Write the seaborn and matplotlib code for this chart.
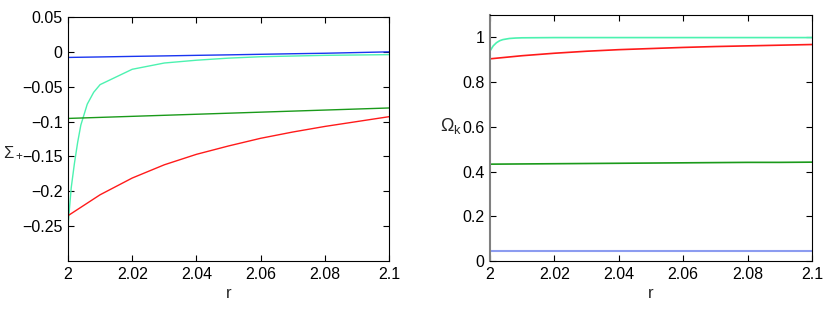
import numpy as np
import pandas as pd
import matplotlib
matplotlib.use("Agg")
import matplotlib.pyplot as plt
import seaborn as sns

# r grid
r = [2.0, 2.01, 2.02, 2.03, 2.04, 2.05, 2.06, 2.07, 2.08, 2.09, 2.1]
r_fine = [2.0, 2.001, 2.002, 2.003, 2.004, 2.006, 2.008, 2.01, 2.02, 2.03,
          2.04, 2.05, 2.06, 2.07, 2.08, 2.09, 2.1]

# left panel: Sigma_+
sig_blue = [-0.008, -0.0073, -0.0065, -0.0058, -0.005, -0.0043, -0.0035, -0.0027, -0.002, -0.001, 0.0]
sig_green = [-0.0955, -0.094, -0.0925, -0.091, -0.0895, -0.088, -0.0865, -0.085, -0.0835, -0.082, -0.0805]
sig_red = [-0.235, -0.205, -0.181, -0.162, -0.147, -0.135, -0.124, -0.115, -0.107, -0.100, -0.093]
sig_cyan = [-0.25, -0.195, -0.16, -0.13, -0.105, -0.075, -0.058, -0.047, -0.025, -0.016,
            -0.012, -0.009, -0.007, -0.006, -0.005, -0.0045, -0.004]

# right panel: Omega_k
om_cyan_r = [2.0, 2.001, 2.002, 2.003, 2.004, 2.006, 2.008, 2.01, 2.02, 2.04, 2.06, 2.08, 2.1]
om_cyan = [0.939, 0.962, 0.976, 0.985, 0.99, 0.995, 0.997, 0.998, 0.999, 0.999, 0.999, 0.999, 0.999]
om_red = [0.904, 0.918, 0.929, 0.938, 0.945, 0.950, 0.955, 0.959, 0.962, 0.965, 0.968]
om_green = [0.433, 0.434, 0.435, 0.436, 0.437, 0.438, 0.439, 0.440, 0.441, 0.441, 0.442]
om_blue = [0.046] * len(r)

sns.set_theme(style="ticks")
plt.rcParams['font.family'] = ['Liberation Sans', 'DejaVu Sans']
plt.rcParams['mathtext.fontset'] = 'custom'
plt.rcParams['mathtext.rm'] = 'Liberation Sans'
plt.rcParams['mathtext.it'] = 'Liberation Sans'

c_blue = '#1a35f0'
c_cyan = '#4cf2b0'
c_green = '#1a9a1a'
c_red = '#ff1a1a'

fig = plt.figure(figsize=(8.3, 3.1), dpi=100)
ax1 = fig.add_axes([68 / 830, 49 / 310, 321 / 830, 244 / 310])
ax2 = fig.add_axes([490 / 830, 49 / 310, 322 / 830, 246 / 310])

sns.lineplot(x=r, y=sig_blue, color=c_blue, lw=1, ax=ax1)
sns.lineplot(x=r_fine, y=sig_cyan, color=c_cyan, lw=1, ax=ax1)
sns.lineplot(x=r, y=sig_green, color=c_green, lw=1, ax=ax1)
sns.lineplot(x=r, y=sig_red, color=c_red, lw=1, ax=ax1)

sns.lineplot(x=om_cyan_r, y=om_cyan, color=c_cyan, lw=1.2, ax=ax2)
sns.lineplot(x=r, y=om_red, color=c_red, lw=1.2, ax=ax2)
sns.lineplot(x=r, y=om_green, color=c_green, lw=1.2, ax=ax2)
sns.lineplot(x=r, y=om_blue, color='#8c9cf0', lw=1.5, ax=ax2)

xt = [2, 2.02, 2.04, 2.06, 2.08, 2.1]
xtl = ['2', '2.02', '2.04', '2.06', '2.08', '2.1']

ax1.set_xlim(2, 2.1)
ax1.set_ylim(-0.3, 0.05)
ax1.set_yticks([0.05, 0, -0.05, -0.1, -0.15, -0.2, -0.25])
ax1.set_yticklabels(['0.05', '0', '\u22120.05', '\u22120.1', '\u22120.15', '\u22120.2', '\u22120.25'])

ax2.set_xlim(2, 2.1)
ax2.set_ylim(0, 1.1)
ax2.set_yticks([0, 0.2, 0.4, 0.6, 0.8, 1])
ax2.set_yticklabels(['0', '0.2', '0.4', '0.6', '0.8', '1'])

for ax in (ax1, ax2):
    ax.set_xticks(xt)
    ax.set_xticklabels(xtl)
    ax.tick_params(direction='in', top=True, right=True, length=4, width=0.8,
                   labelsize=11.5, colors='black', pad=4)
    ax.set_xlabel('r', fontsize=12, labelpad=3)
    for s in ax.spines.values():
        s.set_color('black')
        s.set_linewidth(0.8)

ax2.spines['left'].set_color('#808080')
ax2.spines['left'].set_linewidth(1.5)

ax1.set_ylabel(r'$\Sigma_+$', fontsize=12, rotation=0)
ax1.yaxis.set_label_coords(-0.17, 0.41)
ax2.set_ylabel(r'$\Omega_k$', fontsize=13, rotation=0)
ax2.yaxis.set_label_coords(-0.12, 0.51)

fig.savefig('out.png', dpi=100)
